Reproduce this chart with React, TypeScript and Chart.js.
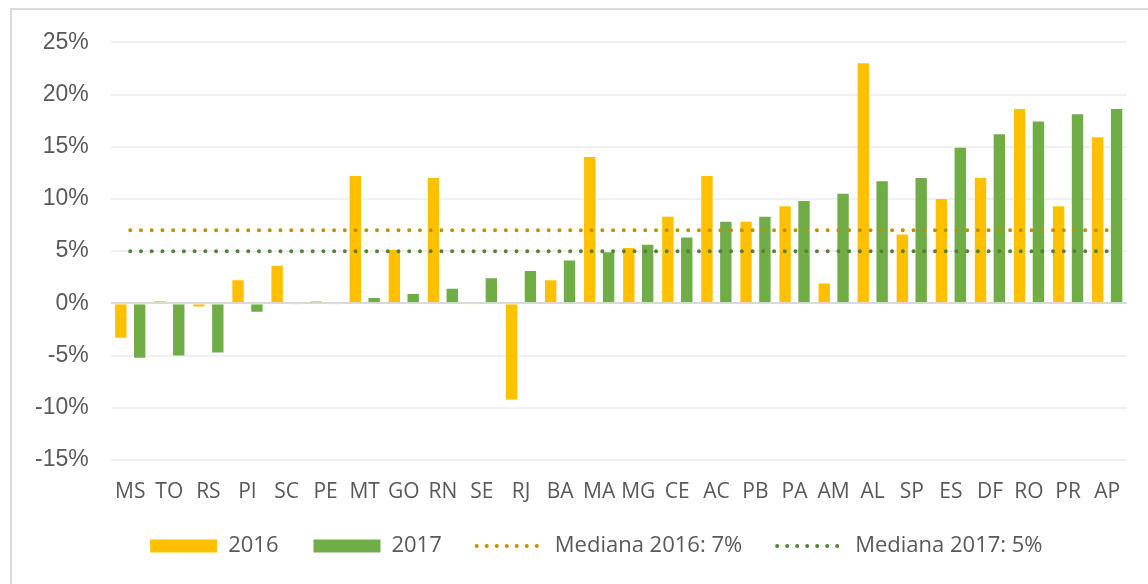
import { useEffect, useRef } from 'react';
import { Chart, registerables } from 'chart.js';

Chart.register(...registerables);

const states = ['MS', 'TO', 'RS', 'PI', 'SC', 'PE', 'MT', 'GO', 'RN', 'SE', 'RJ', 'BA', 'MA', 'MG', 'CE', 'AC', 'PB', 'PA', 'AM', 'AL', 'SP', 'ES', 'DF', 'RO', 'PR', 'AP'];
const growth2016 = [-3.4, 0.3, -0.4, 2.3, 3.7, 0.3, 12.3, 5.2, 12.1, -0.1, -9.3, 2.3, 14.1, 5.4, 8.4, 12.3, 7.9, 9.4, 2.0, 23.1, 6.7, 10.1, 12.1, 18.7, 9.4, 16.0];
const growth2017 = [-5.3, -5.1, -4.8, -0.9, -0.1, -0.1, 0.6, 1.0, 1.5, 2.5, 3.2, 4.2, 5.0, 5.7, 6.4, 7.9, 8.4, 9.9, 10.6, 11.8, 12.1, 15.0, 16.3, 17.5, 18.2, 18.7];
const median2016 = 7;
const median2017 = 5;
const seriesLabels = ['2016', '2017', 'Mediana 2016: 7%', 'Mediana 2017: 5%'];
const yMin = -15;
const yMax = 25;
const yStep = 5;

const layoutTweaks = {
  id: 'layoutTweaks',
  afterLayout(chart: any) {
    const lg = chart.legend;
    if (lg) {
      lg.left += 19;
      lg.right += 19;
    }
    const xs = chart.scales.x;
    if (xs) xs.bottom += 14;
  },
};

export default function App() {
  const canvasRef = useRef<HTMLCanvasElement | null>(null);

  useEffect(() => {
    if (!canvasRef.current) return;
    const chart = new Chart(canvasRef.current, {
      type: 'bar',
      data: {
        labels: states,
        datasets: [
          {
            type: 'bar',
            label: seriesLabels[0],
            data: growth2016,
            backgroundColor: '#FFC000',
            borderColor: 'rgba(255,255,255,0.45)',
            borderWidth: 1,
            categoryPercentage: 0.965,
            barPercentage: 0.71,
            order: 1,
          },
          {
            type: 'bar',
            label: seriesLabels[1],
            data: growth2017,
            backgroundColor: '#70AD47',
            borderColor: 'rgba(255,255,255,0.45)',
            borderWidth: 1,
            categoryPercentage: 0.965,
            barPercentage: 0.71,
            order: 1,
          },
          {
            type: 'line',
            label: seriesLabels[2],
            data: states.map(() => median2016),
            borderColor: '#BF9000',
            backgroundColor: '#BF9000',
            borderWidth: 4,
            borderDash: [0, 10.73],
            borderCapStyle: 'round',
            pointRadius: 0,
            pointHoverRadius: 0,
            fill: false,
            order: 0,
          },
          {
            type: 'line',
            label: seriesLabels[3],
            data: states.map(() => median2017),
            borderColor: '#548235',
            backgroundColor: '#548235',
            borderWidth: 4,
            borderDash: [0, 10.73],
            borderCapStyle: 'round',
            pointRadius: 0,
            pointHoverRadius: 0,
            fill: false,
            order: 0,
          },
        ],
      } as any,
      options: {
        responsive: false,
        devicePixelRatio: 1,
        animation: false,
        layout: { padding: { left: 28, right: 21.3, top: 42.3, bottom: 17 } },
        scales: {
          x: {
            offset: true,
            grid: { display: false, drawTicks: false },
            border: { display: false },
            ticks: {
              color: '#595959',
              font: { family: 'Open Sans', size: 21, lineHeight: 1.2 },
              padding: 19.4,
              maxRotation: 0,
              autoSkip: false,
            },
            afterFit: (scale: any) => {
              scale.height = 40;
            },
          },
          y: {
            min: yMin,
            max: yMax,
            border: { display: false },
            grid: {
              drawTicks: false,
              color: (ctx: any) => (ctx.tick && ctx.tick.value === 0 ? '#D9D9D9' : '#F0F0F0'),
              lineWidth: 2,
            },
            ticks: {
              stepSize: yStep,
              color: '#595959',
              font: { family: 'Liberation Sans', size: 23 },
              padding: 22,
              callback: (v: any) => `${v}%`,
            },
            afterFit: (scale: any) => {
              scale.width = 82.7;
            },
          },
        },
        plugins: {
          tooltip: { enabled: false },
          legend: {
            display: true,
            position: 'bottom',
            labels: {
              color: '#595959',
              font: { family: 'Open Sans', size: 22 },
              usePointStyle: true,
              pointStyleWidth: 67,
              boxWidth: 67,
              boxHeight: 13,
              padding: 35,
              sort: (a: any, b: any) => a.datasetIndex - b.datasetIndex,
              generateLabels: (ch: any) => {
                const items = Chart.defaults.plugins.legend.labels.generateLabels(ch);
                return items.map((it: any) => {
                  if (it.datasetIndex < 2) {
                    return { ...it, pointStyle: 'rect', lineWidth: 0, strokeStyle: 'transparent' };
                  }
                  return { ...it, pointStyle: 'line', lineWidth: 4, lineDash: [0, 10], lineCap: 'round' };
                });
              },
            },
          },
        },
      },
      plugins: [layoutTweaks],
    } as any);
    return () => chart.destroy();
  }, []);

  return (
    <div style={{ position: 'absolute', left: 0, top: 0, width: 1148, height: 584, overflow: 'hidden', background: '#fff' }}>
      <div
        style={{
          position: 'absolute',
          left: 10,
          top: 8,
          width: 1300,
          height: 700,
          borderLeft: '2px solid #D9D9D9',
          borderTop: '2px solid #D9D9D9',
        }}
      />
      <canvas ref={canvasRef} width={1148} height={584} style={{ position: 'absolute', left: 0, top: 0, display: 'block' }} />
    </div>
  );
}
